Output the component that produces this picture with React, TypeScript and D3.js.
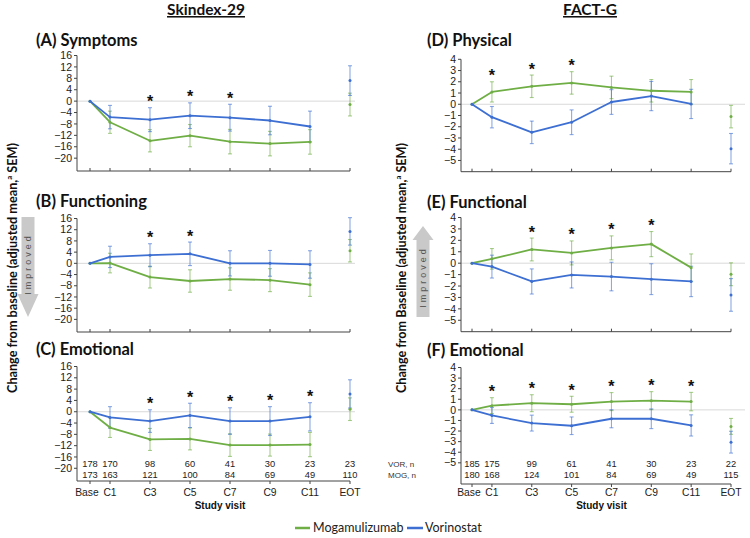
import React from "react";
import * as d3 from "d3";

// ---------- DATA ----------
const visits = ["Base", "C1", "C3", "C5", "C7", "C9", "C11", "EOT"];
const visitCycle = [0, 1, 3, 5, 7, 9, 11, 13];

const skindexTicks = [16, 12, 8, 4, 0, -4, -8, -12, -16, -20];
const factTicks = [4, 3, 2, 1, 0, -1, -2, -3, -4, -5];

const skindexVorN = [178, 170, 98, 60, 41, 30, 23, 23];
const skindexMogN = [173, 163, 121, 100, 84, 69, 49, 110];
const factVorN = [185, 175, 99, 61, 41, 30, 23, 22];
const factMogN = [180, 168, 124, 101, 84, 69, 49, 115];

// (A) Symptoms
const symptomsMog = [0, -7.4, -13.9, -12.1, -14.2, -14.9, -14.3, -1.2];
const symptomsMogSem = [0, 3.9, 3.9, 3.9, 4.3, 4.3, 4.3, 4.0];
const symptomsVor = [0, -5.6, -6.5, -5.1, -5.8, -6.8, -8.9, 7.2];
const symptomsVorSem = [0, 4.1, 4.2, 4.5, 4.7, 5.0, 5.4, 5.2];
const symptomsStars = ["C3", "C5", "C7"];

// (B) Functioning
const functioningMog = [0, 0.1, -4.9, -6.3, -5.6, -6.0, -7.6, 4.5];
const functioningMogSem = [0, 3.5, 3.9, 4.0, 4.0, 4.1, 4.2, 4.0];
const functioningVor = [0, 2.3, 2.9, 3.4, 0.0, 0.0, -0.4, 11.4];
const functioningVorSem = [0, 3.8, 4.1, 4.2, 4.5, 4.6, 4.9, 4.9];
const functioningStars = ["C3", "C5"];

// (C) Emotional (Skindex)
const emoSkMog = [0, -5.6, -9.8, -9.6, -11.8, -11.8, -11.6, 0.9];
const emoSkMogSem = [0, 3.5, 3.9, 3.9, 4.0, 3.9, 4.3, 4.0];
const emoSkVor = [0, -2.0, -3.3, -1.3, -3.3, -3.3, -1.8, 6.3];
const emoSkVorSem = [0, 3.8, 4.0, 4.3, 4.7, 5.1, 5.0, 5.0];
const emoSkStars = ["C3", "C5", "C7", "C9", "C11"];

// (D) Physical
const physicalMog = [0, 1.1, 1.6, 1.9, 1.5, 1.2, 1.1, -1.1];
const physicalMogSem = [0, 0.9, 1.0, 1.0, 1.0, 1.0, 1.1, 1.0];
const physicalVor = [0, -1.15, -2.5, -1.6, 0.2, 0.73, 0.03, -3.95];
const physicalVorSem = [0, 0.95, 1.0, 1.1, 1.1, 1.3, 1.3, 1.35];
const physicalStars = ["C1", "C3", "C5"];

// (E) Functional
const functionalMog = [0, 0.38, 1.2, 0.9, 1.34, 1.67, -0.39, -0.97];
const functionalMogSem = [0, 0.9, 1.0, 1.05, 1.05, 1.1, 1.2, 1.0];
const functionalVor = [0, -0.3, -1.6, -1.03, -1.17, -1.4, -1.6, -2.78];
const functionalVorSem = [0, 1.0, 1.1, 1.14, 1.25, 1.35, 1.33, 1.43];
const functionalStars = ["C3", "C5", "C7", "C9"];

// (F) Emotional (FACT-G)
const emoFgMog = [0, 0.4, 0.63, 0.53, 0.78, 0.87, 0.78, -1.56];
const emoFgMogSem = [0, 0.75, 0.8, 0.75, 0.85, 0.85, 0.87, 0.75];
const emoFgVor = [0, -0.53, -1.25, -1.5, -0.84, -0.84, -1.47, -3.05];
const emoFgVorSem = [0, 0.75, 0.75, 0.83, 0.85, 0.93, 1.0, 1.03];
const emoFgStars = ["C1", "C3", "C5", "C7", "C9", "C11"];

// ---------- STYLE ----------
const GREEN = "#6fae45";
const BLUE = "#3d6fd2";
const TITLE_FONT = "Lato, 'Open Sans', sans-serif";
const AXIS_FONT = "'Liberation Sans', Arial, sans-serif";
const fmt = d3.format("d");

const leftSide = {
  axisX: 77,
  x: d3.scaleLinear().domain([0, 13]).range([90, 350]),
  zeroEnd: 355,
  titleX: 36,
};
const rightSide = {
  axisX: 461,
  x: d3.scaleLinear().domain([0, 13]).range([472, 731]),
  zeroEnd: 745,
  titleX: 427,
};

type PanelCfg = {
  title: string;
  titleY: number;
  side: typeof leftSide;
  top: number;
  bottom: number;
  domain: [number, number];
  ticks: number[];
  mog: number[];
  mogSem: number[];
  vor: number[];
  vorSem: number[];
  stars: string[];
  bottomPanel: boolean;
  vorN?: number[];
  mogN?: number[];
  rowLabels?: boolean;
};

const panels: PanelCfg[] = [
  { title: "(A) Symptoms", titleY: 46, side: leftSide, top: 55.5, bottom: 171, domain: [-24.5, 16], ticks: skindexTicks, mog: symptomsMog, mogSem: symptomsMogSem, vor: symptomsVor, vorSem: symptomsVorSem, stars: symptomsStars, bottomPanel: false },
  { title: "(B) Functioning", titleY: 207, side: leftSide, top: 218.5, bottom: 332, domain: [-24.5, 16], ticks: skindexTicks, mog: functioningMog, mogSem: functioningMogSem, vor: functioningVor, vorSem: functioningVorSem, stars: functioningStars, bottomPanel: false },
  { title: "(C) Emotional", titleY: 355, side: leftSide, top: 366.5, bottom: 481, domain: [-24.5, 16], ticks: skindexTicks, mog: emoSkMog, mogSem: emoSkMogSem, vor: emoSkVor, vorSem: emoSkVorSem, stars: emoSkStars, bottomPanel: true, vorN: skindexVorN, mogN: skindexMogN },
  { title: "(D) Physical", titleY: 46, side: rightSide, top: 59.3, bottom: 171.7, domain: [-6, 4], ticks: factTicks, mog: physicalMog, mogSem: physicalMogSem, vor: physicalVor, vorSem: physicalVorSem, stars: physicalStars, bottomPanel: false },
  { title: "(E) Functional", titleY: 208, side: rightSide, top: 217.5, bottom: 331.7, domain: [-6, 4], ticks: factTicks, mog: functionalMog, mogSem: functionalMogSem, vor: functionalVor, vorSem: functionalVorSem, stars: functionalStars, bottomPanel: false },
  { title: "(F) Emotional", titleY: 356, side: rightSide, top: 367.5, bottom: 484, domain: [-7, 4], ticks: factTicks, mog: emoFgMog, mogSem: emoFgMogSem, vor: emoFgVor, vorSem: emoFgVorSem, stars: emoFgStars, bottomPanel: true, vorN: factVorN, mogN: factMogN, rowLabels: true },
];

function Series({ x, y, mean, color }: any) {
  const idx = d3.range(0, 7);
  const line = d3
    .line<number>()
    .x((i) => x(visitCycle[i]))
    .y((i) => y(mean[i]));
  return (
    <g>
      <path d={line(idx) || ""} fill="none" stroke={color} strokeWidth={1.8} strokeLinejoin="round" />
      {mean.map((m: number, i: number) => (
        <circle key={i} cx={x(visitCycle[i])} cy={y(m)} r={1.5} fill={color} />
      ))}
    </g>
  );
}

function ErrorBars({ x, y, mean, sem, color }: any) {
  return (
    <g stroke={color} strokeOpacity={0.6} strokeWidth={1.1}>
      {mean.map((m: number, i: number) => {
        if (!sem[i]) return null;
        const cx = x(visitCycle[i]);
        const y1 = y(m + sem[i]);
        const y2 = y(m - sem[i]);
        return (
          <g key={i}>
            <line x1={cx} x2={cx} y1={y1} y2={y2} />
            <line x1={cx - 2} x2={cx + 2} y1={y1} y2={y1} />
            <line x1={cx - 2} x2={cx + 2} y1={y2} y2={y2} />
          </g>
        );
      })}
    </g>
  );
}

function Panel({ p }: { p: PanelCfg }) {
  const { side } = p;
  const x = side.x;
  const y = d3.scaleLinear().domain(p.domain).range([p.bottom, p.top]);
  const axisX = side.axisX;
  return (
    <g>
      <text x={side.titleX} y={p.titleY} fontFamily={TITLE_FONT} fontWeight={700} fontSize={16.5} fill="#111">
        {p.title}
      </text>
      <line x1={axisX} x2={side.zeroEnd} y1={y(0)} y2={y(0)} stroke="#d9d9d9" strokeWidth={1} />
      <line x1={axisX} x2={axisX} y1={p.top} y2={p.bottom} stroke="#444" strokeWidth={1} />
      {p.ticks.map((t) => (
        <g key={t}>
          <line x1={axisX - 3} x2={axisX} y1={y(t)} y2={y(t)} stroke="#444" />
          <text x={axisX - 5} y={y(t)} dy="0.35em" textAnchor="end" fontFamily={AXIS_FONT} fontSize={10.5} fill="#222">
            {fmt(t)}
          </text>
        </g>
      ))}
      <line x1={axisX} x2={x(13)} y1={p.bottom} y2={p.bottom} stroke="#444" strokeWidth={1} />
      {visitCycle.map((c, i) => (
        <line key={i} x1={x(c)} x2={x(c)} y1={p.bottom - (p.bottomPanel ? 0 : 3)} y2={p.bottom + (p.bottomPanel ? 3 : 0)} stroke="#444" />
      ))}
      <ErrorBars x={x} y={y} mean={p.mog} sem={p.mogSem} color={GREEN} />
      <ErrorBars x={x} y={y} mean={p.vor} sem={p.vorSem} color={BLUE} />
      <Series x={x} y={y} mean={p.mog} color={GREEN} />
      <Series x={x} y={y} mean={p.vor} color={BLUE} />
      {p.stars.map((s) => {
        const i = visits.indexOf(s);
        const top = Math.min(y(p.mog[i] + p.mogSem[i]), y(p.vor[i] + p.vorSem[i]));
        return (
          <text key={s} x={x(visitCycle[i])} y={top - 0.5} textAnchor="middle" fontFamily={AXIS_FONT} fontWeight={700} fontSize={16} fill="#111">
            *
          </text>
        );
      })}
      {p.bottomPanel && (
        <g fontFamily={AXIS_FONT} fill="#222">
          {p.vorN!.map((n, i) => (
            <text key={"v" + i} x={x(visitCycle[i])} y={467.4} textAnchor="middle" fontSize={9.3}>
              {n}
            </text>
          ))}
          {p.mogN!.map((n, i) => (
            <text key={"m" + i} x={x(visitCycle[i])} y={477.8} textAnchor="middle" fontSize={9.3}>
              {n}
            </text>
          ))}
          {visits.map((v, i) => (
            <text key={"l" + i} x={x(visitCycle[i]) - (i === 0 ? 3 : 0)} y={495.5} textAnchor="middle" fontSize={10.3}>
              {v}
            </text>
          ))}
          <text x={(x(0) + x(13)) / 2} y={509} textAnchor="middle" fontSize={10} fontWeight={700} fill="#111">
            Study visit
          </text>
          {p.rowLabels && (
            <g fontFamily="'Liberation Sans Narrow', 'Liberation Sans', Arial, sans-serif" fontSize={8} fill="#333">
              <text x={388} y={467}>VOR, n</text>
              <text x={388} y={477.5}>MOG, n</text>
            </g>
          )}
        </g>
      )}
    </g>
  );
}

function ImprovedArrow({ cx, shaftTop, shaftBottom, headBase, tip, down, textY }: any) {
  const hw = 10.5;
  const sw = 6.5;
  const d = down
    ? `M${cx - sw},${shaftTop} L${cx + sw},${shaftTop} L${cx + sw},${headBase} L${cx + hw},${headBase} L${cx},${tip} L${cx - hw},${headBase} L${cx - sw},${headBase} Z`
    : `M${cx - sw},${shaftBottom} L${cx + sw},${shaftBottom} L${cx + sw},${headBase} L${cx + hw},${headBase} L${cx},${tip} L${cx - hw},${headBase} L${cx - sw},${headBase} Z`;
  return (
    <g>
      <path d={d} fill="#c9c9c9" />
      <text
        transform={`translate(${cx + 3},${textY}) rotate(-90)`}
        textAnchor="middle"
        fontFamily={AXIS_FONT}
        fontSize={9}
        letterSpacing={3}
        fill="#555"
      >
        Improved
      </text>
    </g>
  );
}

function YLabel({ x, text }: any) {
  return (
    <text
      transform={`translate(${x},268) rotate(-90)`}
      textAnchor="middle"
      fontFamily={TITLE_FONT}
      fontWeight={700}
      fontSize={13}
      textLength={250}
      lengthAdjust="spacingAndGlyphs"
      fill="#111"
    >
      {text}
      <tspan fontSize={8} dy={-5}>a</tspan>
      <tspan dy={5}> SEM)</tspan>
    </text>
  );
}

export default function App() {
  return (
    <svg width={750} height={538} style={{ position: "absolute", left: 0, top: 0, background: "#fff" }}>
      <rect width={750} height={538} fill="#fff" />
      <text x={206} y={15} textAnchor="middle" fontFamily={TITLE_FONT} fontWeight={700} fontSize={15.5} textDecoration="underline" fill="#111">
        Skindex-29
      </text>
      <text x={590} y={15} textAnchor="middle" fontFamily={TITLE_FONT} fontWeight={700} fontSize={15.5} textDecoration="underline" fill="#111">
        FACT-G
      </text>
      <YLabel x={16.5} text="Change from baseline (adjusted mean," />
      <YLabel x={406} text="Change from Baseline (adjusted mean," />
      <ImprovedArrow cx={28} shaftTop={217} headBase={294} tip={317} down textY={264} />
      <ImprovedArrow cx={423} shaftBottom={317} headBase={240} tip={226} textY={277} />
      {panels.map((p) => (
        <Panel key={p.title} p={p} />
      ))}
      <g>
        <line x1={295} x2={310} y1={528} y2={528} stroke={GREEN} strokeWidth={2.5} />
        <text x={313} y={532} fontFamily={TITLE_FONT} fontSize={12.5} fill="#222">Mogamulizumab</text>
        <line x1={407} x2={423} y1={528} y2={528} stroke={BLUE} strokeWidth={2.5} />
        <text x={425} y={532} fontFamily={TITLE_FONT} fontSize={12.5} fill="#222">Vorinostat</text>
      </g>
    </svg>
  );
}
